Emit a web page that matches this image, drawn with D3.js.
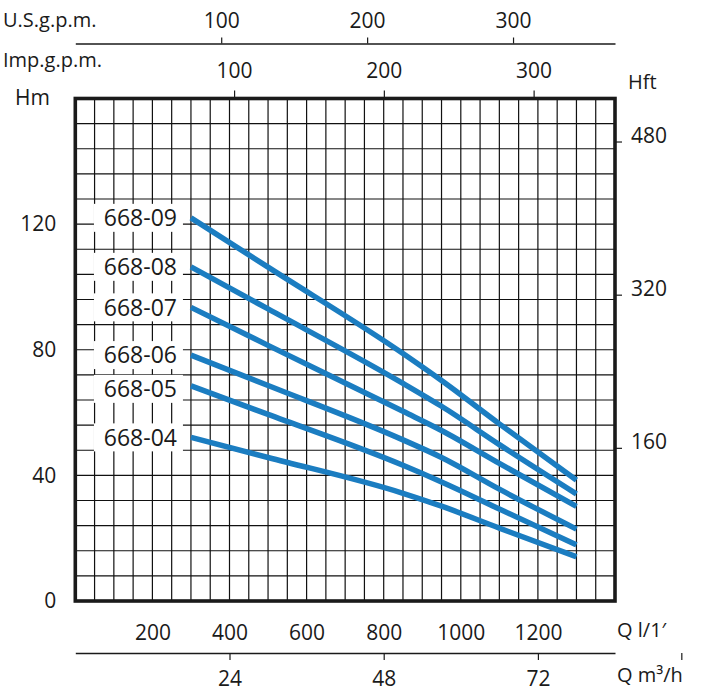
<!DOCTYPE html>
<html>
<head>
<meta charset="utf-8">
<script src="https://cdn.jsdelivr.net/npm/d3@7/dist/d3.min.js"></script>
<style>
  html, body { margin: 0; padding: 0; background: #fff; }
  svg { display: block; }
  text { font-family: "Open Sans", "Noto Sans", sans-serif; fill: #1a1a1a; }
</style>
</head>
<body>
<svg id="chart" width="705" height="698"></svg>
<script>
// ---- data ----
const flowLpm = [300, 500, 850, 950, 1100, 1300];            // Q l/min
const models = ["668-09", "668-08", "668-07", "668-06", "668-05", "668-04"];
const head09 = [122.0, 106.3, 78.8, 70.2, 56.4, 38.5];        // H m
const head08 = [106.4, 93.0, 69.3, 62.0, 49.8, 34.1];
const head07 = [93.5, 81.4, 60.4, 54.3, 43.8, 30.1];
const head06 = [78.3, 68.6, 51.3, 45.7, 35.6, 22.9];
const head05 = [68.5, 59.4, 43.2, 37.9, 29.3, 17.9];
const head04 = [52.1, 45.7, 34.3, 30.2, 23.2, 14.1];
const headSeries = [head09, head08, head07, head06, head05, head04];

const lpmTicks = [200, 400, 600, 800, 1000, 1200];
const m3hTicks = [24, 48, 72];
const hmTicks = [0, 40, 80, 120];
const hftTicks = [160, 320, 480];
const usTicks = [100, 200, 300];
const impTicks = [100, 200, 300];

// ---- layout ----
const L = 75.3, R = 615, T = 98.5, B = 601;
const svg = d3.select("#chart");
const x = d3.scaleLinear().domain([0, 1400]).range([L, R]);
const y = d3.scaleLinear().domain([0, 160]).range([B, T]);
const yFt = d3.scaleLinear().domain([0, 160 / 0.3048]).range([B, T]);
const xM3 = d3.scaleLinear().domain([0, 1400 * 0.06]).range([L, R]);
const xUS = d3.scaleLinear().domain([0, 1400 / 3.785]).range([L, R]);
// Imp. g.p.m. scale as drawn on the original sheet
const impOff = 23.4, impK = 3.885;
const xImp = d3.scaleLinear().domain([-impOff / impK, (1400 - impOff) / impK]).range([L, R]);
const fmt = d3.format("d");

// grid
const grid = svg.append("g").attr("stroke", "#111").attr("stroke-width", 1.2);
grid.selectAll("line.v").data(d3.range(50, 1400, 50)).join("line")
  .attr("x1", d => x(d)).attr("x2", d => x(d)).attr("y1", T).attr("y2", B);
grid.selectAll("line.h").data(d3.range(8, 160, 8)).join("line")
  .attr("y1", d => y(d)).attr("y2", d => y(d)).attr("x1", L).attr("x2", R);

// curves
const line = d3.line().x((d, i) => x(flowLpm[i])).y(d => y(d)).curve(d3.curveMonotoneX);
svg.append("g").selectAll("path").data(headSeries).join("path")
  .attr("d", d => line(d))
  .attr("fill", "none").attr("stroke", "#1b7dc1").attr("stroke-width", 5.5);

// model labels with white boxes
const lab = svg.append("g");
models.forEach((m, i) => {
  const cy = y(headSeries[i][0]) + (i === 4 ? 3 : 0);
  lab.append("rect").attr("x", x(flowLpm[0]) - 97).attr("y", cy - 14)
    .attr("width", 89).attr("height", 28).attr("fill", "#fff");
  lab.append("text").attr("x", x(flowLpm[0]) - 14).attr("y", cy)
    .attr("dy", "0.36em").attr("text-anchor", "end")
    .attr("font-size", 23).text(m);
});

// frame
svg.append("rect").attr("x", L).attr("y", T).attr("width", R - L).attr("height", B - T)
  .attr("fill", "none").attr("stroke", "#1a1a1a").attr("stroke-width", 3.6);

function styleAxis(g) {
  g.selectAll(".tick line").attr("stroke", "#1a1a1a").attr("stroke-width", 1.2);
  g.selectAll("text").attr("font-size", 21).attr("fill", "#1a1a1a")
    .style("font-family", '"Open Sans", "Noto Sans", sans-serif');
  g.select(".domain").attr("stroke", "#1a1a1a").attr("stroke-width", 1.3);
}

// left Hm axis (labels only)
svg.append("g").attr("transform", `translate(${L},0)`)
  .call(d3.axisLeft(y).tickValues(hmTicks).tickSize(0).tickPadding(19).tickFormat(fmt))
  .call(g => { g.select(".domain").remove(); styleAxis(g); });

// right Hft axis
svg.append("g").attr("transform", `translate(${R},0)`)
  .call(d3.axisRight(yFt).tickValues(hftTicks).tickSize(7).tickPadding(9).tickFormat(fmt))
  .call(g => { g.select(".domain").remove(); styleAxis(g); g.selectAll("text").attr("dy", "0.05em"); });

// bottom l/min labels
svg.append("g").attr("transform", `translate(0,${B})`)
  .call(d3.axisBottom(x).tickValues(lpmTicks).tickSize(0).tickFormat(fmt))
  .call(g => { g.select(".domain").remove(); styleAxis(g); g.selectAll("text").attr("y", 31).attr("dy", "0.36em"); });

// m3/h axis
svg.append("g").attr("transform", `translate(0,653)`)
  .call(d3.axisBottom(xM3).tickValues(m3hTicks).tickSize(7).tickSizeOuter(0).tickFormat(fmt))
  .call(g => { styleAxis(g); g.selectAll("text").attr("y", 25).attr("dy", "0.36em"); });
svg.append("line").attr("x1", xM3(94.4)).attr("x2", xM3(94.4)).attr("y1", 653).attr("y2", 660)
  .attr("stroke", "#1a1a1a").attr("stroke-width", 1.2);

// US gpm axis
svg.append("g").attr("transform", `translate(0,43.5)`)
  .call(d3.axisTop(xUS).tickValues(usTicks).tickSize(6).tickSizeOuter(0).tickFormat(fmt))
  .call(g => { styleAxis(g); g.selectAll("text").attr("y", -23.5).attr("dy", "0.36em"); });

// Imp gpm axis
svg.append("g").attr("transform", `translate(0,${T})`)
  .call(d3.axisTop(xImp).tickValues(impTicks).tickSize(8).tickFormat(fmt))
  .call(g => { g.select(".domain").remove(); styleAxis(g); g.selectAll("text").attr("y", -28.5).attr("dy", "0.36em"); });

// unit titles
const titles = [
  {t: "U.S.g.p.m.", x: 3, y: 20, a: "start", s: 20},
  {t: "Imp.g.p.m.", x: 3, y: 60, a: "start", s: 20},
  {t: "Hm", x: 15, y: 97, a: "start", s: 21},
  {t: "Hft", x: 628, y: 82, a: "start", s: 20},
  {t: "Q l/1′", x: 617, y: 630, a: "start", s: 20},
  {t: "Q m³/h", x: 617, y: 675, a: "start", s: 20}
];
svg.append("g").selectAll("text").data(titles).join("text")
  .attr("x", d => d.x).attr("y", d => d.y).attr("dy", "0.36em")
  .attr("text-anchor", d => d.a).attr("font-size", d => d.s).text(d => d.t);
</script>
</body>
</html>
